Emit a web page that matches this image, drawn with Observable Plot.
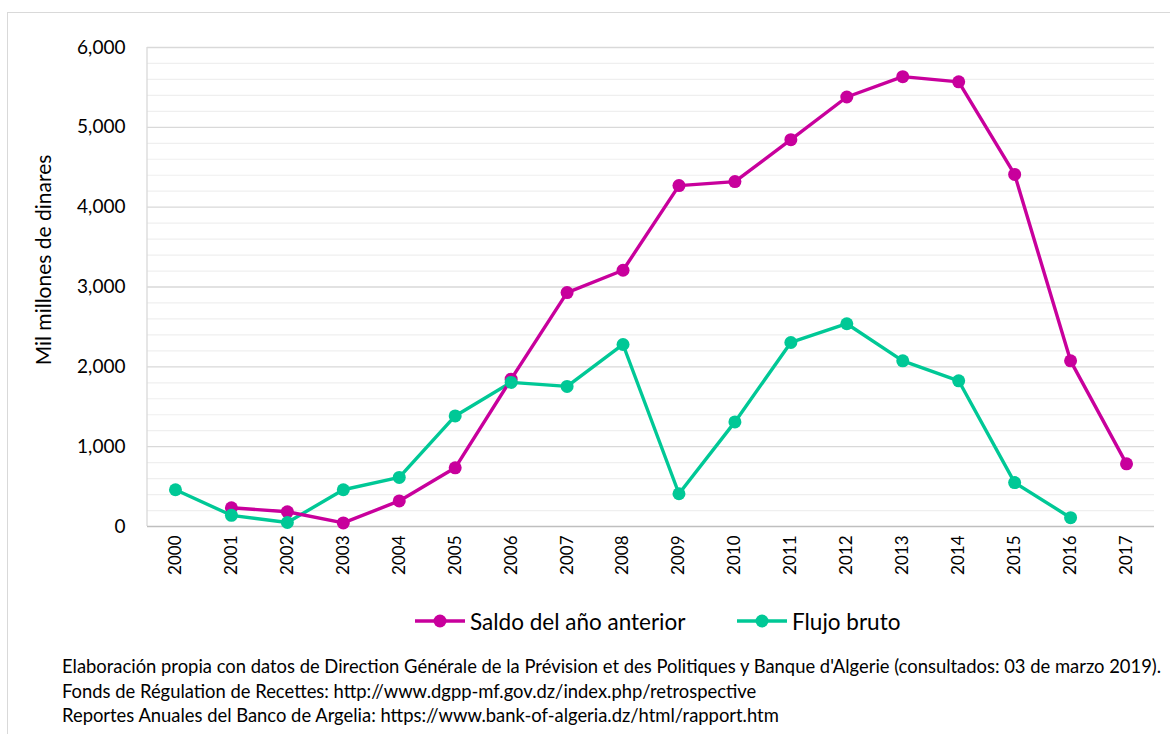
<!DOCTYPE html>
<html>
<head>
<meta charset="utf-8">
<script src="https://cdn.jsdelivr.net/npm/d3@7"></script>
<script src="https://cdn.jsdelivr.net/npm/@observablehq/plot@0.6"></script>
<style>
  html, body { margin: 0; padding: 0; background: #fff; width: 1170px; height: 734px; overflow: hidden; position: relative; font-family: Lato, "Noto Sans", sans-serif; color: #000; }
  #border { position: absolute; left: 7px; top: 12px; width: 1200px; height: 800px; border: 1.5px solid #d9d9d9; box-sizing: border-box; }
  #chart { position: absolute; left: 0; top: 0; }
  #legend { position: absolute; top: 607px; left: 0; width: 1170px; height: 28px; font-size: 22.5px; }
  .item { position: absolute; top: 0; display: flex; align-items: center; height: 28px; }
  .item svg { margin-right: 5px; }
  #caption { position: absolute; left: 62px; top: 654px; font-size: 18.4px; line-height: 24.5px; white-space: nowrap; }
</style>
</head>
<body>
<div id="border"></div>
<div id="chart"></div>
<div id="legend"></div>
<div id="caption"></div>
<script>
const years = ["2000","2001","2002","2003","2004","2005","2006","2007","2008","2009","2010","2011","2012","2013","2014","2015","2016","2017"];
const saldo = [null, 235, 185, 45, 320, 735, 1845, 2930, 3210, 4270, 4320, 4845, 5380, 5635, 5570, 4410, 2075, 785];
const flujo = [460, 140, 50, 460, 615, 1385, 1805, 1755, 2280, 410, 1310, 2305, 2540, 2075, 1825, 550, 110, null];
const seriesNames = ["Saldo del año anterior", "Flujo bruto"];
const seriesColors = ["#c8009c", "#00c896"];
const yTicks = [0, 1000, 2000, 3000, 4000, 5000, 6000];
const yMinor = d3.range(0, 6001, 200).filter(v => v % 1000 !== 0);
const yLabel = "Mil millones de dinares";
const captionLines = [
  "Elaboración propia con datos de Direction Générale de la Prévision et des Politiques y Banque d'Algerie (consultados: 03 de marzo 2019).",
  "Fonds de Régulation de Recettes: http://www.dgpp-mf.gov.dz/index.php/retrospective",
  "Reportes Anuales del Banco de Argelia: https://www.bank-of-algeria.dz/html/rapport.htm"
];

const rows = [];
years.forEach((y, i) => {
  if (saldo[i] != null) rows.push({year: y, value: saldo[i], series: seriesNames[0]});
  if (flujo[i] != null) rows.push({year: y, value: flujo[i], series: seriesNames[1]});
});

function leftAxisLine(index, scales, values, dimensions) {
  const x = dimensions.marginLeft;
  const line = document.createElementNS("http://www.w3.org/2000/svg", "line");
  line.setAttribute("x1", x); line.setAttribute("x2", x);
  line.setAttribute("y1", scales.y(6000)); line.setAttribute("y2", scales.y(0));
  line.setAttribute("stroke", "#d9d9d9"); line.setAttribute("stroke-width", "1.3");
  return line;
}

const chart = Plot.plot({
  width: 1170,
  height: 600,
  marginLeft: 147,
  marginRight: 16,
  marginTop: 47,
  marginBottom: 74,
  style: {fontFamily: "Lato, 'Noto Sans', sans-serif", fontSize: "17px", color: "#000", background: "transparent"},
  x: {type: "point", domain: years, padding: 0.5, round: false},
  y: {domain: [0, 6000]},
  color: {domain: seriesNames, range: seriesColors},
  marks: [
    Plot.ruleY(yMinor, {stroke: "#efefef", strokeWidth: 1.2}),
    Plot.ruleY(yTicks.filter(v => v > 0), {stroke: "#d9d9d9", strokeWidth: 1.3}),
    leftAxisLine,
    Plot.ruleY([0], {stroke: "#bfbfbf", strokeWidth: 1.5}),
    Plot.axisY({ticks: yTicks, tickFormat: d3.format(","), tickSize: 0, tickPadding: 22, label: null, fontSize: 19}),
    Plot.axisX({tickRotate: -90, tickSize: 0, tickPadding: 9, label: null, fontSize: 17}),
    Plot.line(rows, {x: "year", y: "value", z: "series", stroke: "series", strokeWidth: 3.4}),
    Plot.dot(rows, {x: "year", y: "value", fill: "series", r: 6.5}),
    Plot.text([yLabel], {frameAnchor: "left", textAnchor: "middle", dx: -103, dy: -27, rotate: -90, fontSize: 21, fill: "#000"})
  ]
});
document.getElementById("chart").appendChild(chart);

const legend = document.getElementById("legend");
const legendLeft = [415, 737];
seriesNames.forEach((name, i) => {
  const div = document.createElement("div");
  div.className = "item";
  div.style.left = legendLeft[i] + "px";
  div.innerHTML = `<svg width="50" height="16"><line x1="0" y1="8" x2="50" y2="8" stroke="${seriesColors[i]}" stroke-width="3.4"/><circle cx="25" cy="8" r="6.5" fill="${seriesColors[i]}"/></svg><span>${name}</span>`;
  legend.appendChild(div);
});

document.getElementById("caption").innerHTML = captionLines.map(l => `<div>${l}</div>`).join("");
</script>
</body>
</html>
